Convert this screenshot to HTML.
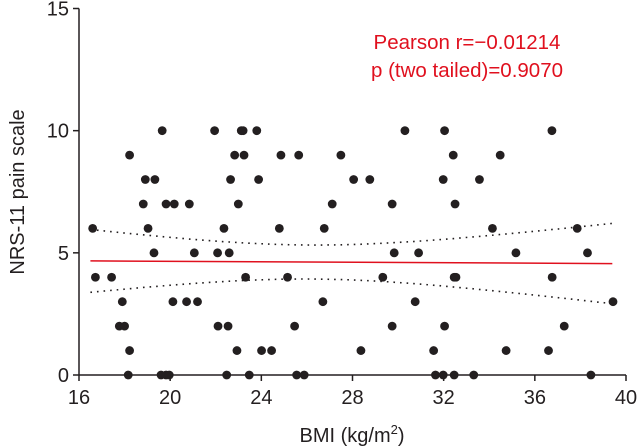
<!DOCTYPE html>
<html><head><meta charset="utf-8"><style>
html,body{margin:0;padding:0;background:#fff;}
svg{display:block;font-family:"Liberation Sans",Arial,sans-serif;}
</style></head><body>
<svg id="chart" width="638" height="446" viewBox="0 0 638 446">
<g id="axes"></g>
<g id="band"></g>
<g id="fit"></g>
<g id="pts"></g>
<text x="467" y="49" fill="#e0101e" font-size="20.5" text-anchor="middle">Pearson r=−0.01214</text>
<text x="467" y="77" fill="#e0101e" font-size="20.5" text-anchor="middle">p (two tailed)=0.9070</text>
<text x="352" y="442" font-size="20" text-anchor="middle" fill="#231f20">BMI (kg/m<tspan dy="-8" font-size="13">2</tspan><tspan dy="8">)</tspan></text>
<text transform="translate(24,192) rotate(-90)" font-size="20" text-anchor="middle" fill="#231f20">NRS-11 pain scale</text>
</svg>
<script>
const bmi = [19.65,21.95,23.12,23.2,23.8,30.3,32.04,36.75,
18.22,22.83,23.24,24.86,25.64,27.49,32.42,34.48,
18.91,19.33,22.65,23.88,28.05,28.76,31.98,33.57,
18.82,19.82,20.18,20.84,22.99,27.11,29.74,32.5,
16.6,19.03,22.36,24.79,26.76,34.14,37.86,
19.29,21.06,22.08,22.59,29.83,30.9,35.17,38.31,
16.72,17.43,23.31,25.15,29.33,32.46,32.54,36.76,
17.9,20.12,20.72,21.2,26.7,30.75,39.43,
17.77,18.0,22.1,22.54,25.46,29.74,32.04,37.29,
18.22,22.93,24.01,24.45,28.37,31.56,34.74,36.6,
18.16,19.6,19.82,19.96,22.48,23.47,25.55,25.88,31.64,31.98,32.46,33.32,38.46];
const pain = [10,10,10,10,10,10,10,10,
9,9,9,9,9,9,9,9,
8,8,8,8,8,8,8,8,
7,7,7,7,7,7,7,7,
6,6,6,6,6,6,6,
5,5,5,5,5,5,5,5,
4,4,4,4,4,4,4,4,
3,3,3,3,3,3,3,
2,2,2,2,2,2,2,2,
1,1,1,1,1,1,1,1,
0,0,0,0,0,0,0,0,0,0,0,0,0];
const xTicks = [16,20,24,28,32,36,40];
const yTicks = [0,5,10,15];
const fitRange = [16.5,39.4];
const fitValues = [4.67,4.56];

const NS="http://www.w3.org/2000/svg";
const X0=79, X1=626, Y0=375, Y1=8.5;
const sx=v=>X0+(v-16)/(40-16)*(X1-X0);
const sy=v=>Y0-(v-0)/(15-0)*(Y0-Y1);
function mk(tag,attrs,parent){const e=document.createElementNS(NS,tag);for(const k in attrs)e.setAttribute(k,attrs[k]);parent.appendChild(e);return e;}
const axes=document.getElementById('axes');
let ax=mk('line',{x1:X0,y1:Y0,x2:X1,y2:Y0,stroke:'#231f20','stroke-width':1.5},axes);


let ay=mk('line',{x1:X0,y1:Y0,x2:X0,y2:Y1,stroke:'#231f20','stroke-width':1.5},axes);


xTicks.forEach(t=>{
  const l=mk('line',{x1:sx(t),y1:Y0,x2:sx(t),y2:Y0+6,stroke:'#231f20','stroke-width':1.5},axes);
  
  
  const tx=mk('text',{x:sx(t),y:404,'font-size':20,'text-anchor':'middle',fill:'#231f20'},axes);
  tx.textContent=t;
  
  
});
yTicks.forEach(t=>{
  const l=mk('line',{x1:X0-6,y1:sy(t),x2:X0,y2:sy(t),stroke:'#231f20','stroke-width':1.5},axes);
  
  
  const tx=mk('text',{x:X0-10,y:sy(t)+7,'font-size':20,'text-anchor':'end',fill:'#231f20'},axes);
  tx.textContent=t;
  
  
});
const n=bmi.length;
const mx=bmi.reduce((a,b)=>a+b,0)/n;
const b=(fitValues[1]-fitValues[0])/(fitRange[1]-fitRange[0]), a=fitValues[0]-b*fitRange[0];
let sxx=0,sse=0;for(let i=0;i<n;i++){sxx+=(bmi[i]-mx)**2;sse+=(pain[i]-a-b*bmi[i])**2;}
const s=Math.sqrt(sse/(n-2)), tc=1.985;
const fit=mk('line',{x1:sx(fitRange[0]),y1:sy(fitValues[0]),x2:sx(fitRange[1]),y2:sy(fitValues[1]),stroke:'#e0101e','stroke-width':1.5},document.getElementById('fit'));


const band=document.getElementById('band');
[1,-1].forEach(sg=>{
  let d='';
  for(let k=0;k<=60;k++){const x=fitRange[0]+(fitRange[1]-fitRange[0])*k/60;
    const y=a+b*x+sg*tc*s*Math.sqrt(1/n+(x-mx)**2/sxx);
    d+=(k?'L':'M')+sx(x).toFixed(1)+','+sy(y).toFixed(1);}
  const p=mk('path',{d:d,fill:'none',stroke:'#231f20','stroke-width':1.6,'stroke-dasharray':'1.6 5'},band);
  
  
});
const pts=document.getElementById('pts');
for(let i=0;i<n;i++){
  const c=mk('circle',{cx:sx(bmi[i]),cy:sy(pain[i]),r:4.4,fill:'#231f20'},pts);
  
  
}
</script>
</body></html>
